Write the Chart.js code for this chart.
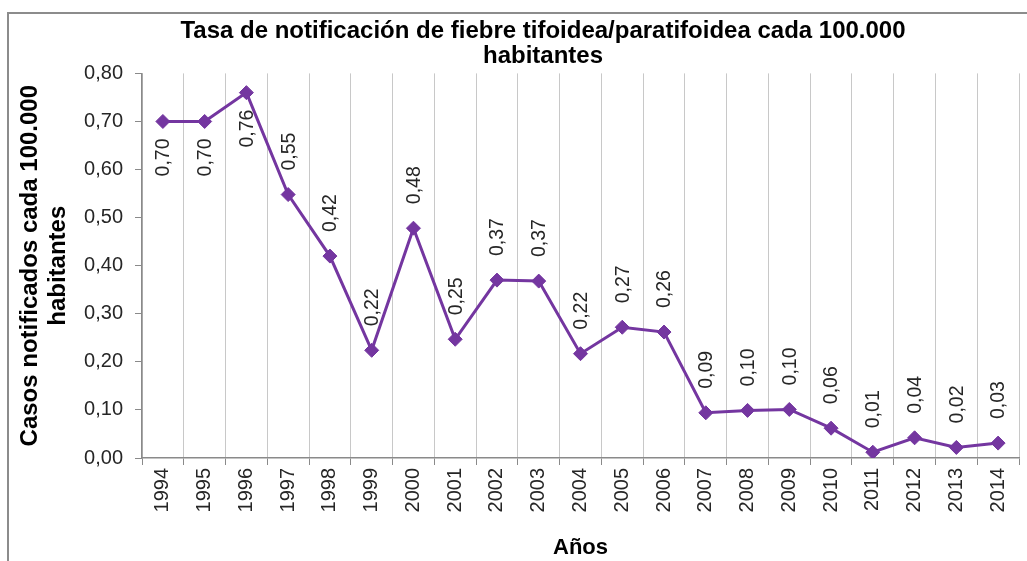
<!DOCTYPE html>
<html>
<head>
<meta charset="utf-8">
<script src="https://cdn.jsdelivr.net/npm/chart.js@4/dist/chart.umd.min.js"></script>
<style>
  body { margin: 0; background: #fff; overflow: hidden; }
  #wrap { width: 1027px; height: 561px; }
</style>
</head>
<body>
<div id="wrap"><canvas id="tasaChart"></canvas></div>
<script>
// datos
var years = ['1994', '1995', '1996', '1997', '1998', '1999', '2000', '2001', '2002', '2003', '2004',
             '2005', '2006', '2007', '2008', '2009', '2010', '2011', '2012', '2013', '2014'];
var tasa = [0.70, 0.70, 0.76, 0.548, 0.42, 0.224, 0.478, 0.247, 0.37, 0.368, 0.217,
            0.272, 0.262, 0.094, 0.099, 0.101, 0.062, 0.012, 0.042, 0.022, 0.031];
var yTicks = [0, 0.1, 0.2, 0.3, 0.4, 0.5, 0.6, 0.7, 0.8];

var purple = '#7436a0';
var axisGray = '#8a8a8a';
var fontFam = "'Liberation Sans', Arial, sans-serif";

function fmt(v) {
  return v.toFixed(2).replace('.', ',');
}

// marco gris del grafico (solo izquierda y arriba quedan dentro de la imagen)
var framePlugin = {
  id: 'frame',
  beforeDraw: function(chart) {
    var ctx = chart.ctx;
    ctx.save();
    ctx.fillStyle = '#fff';
    ctx.fillRect(0, 0, chart.width, chart.height);
    ctx.strokeStyle = '#8c8c8c';
    ctx.lineWidth = 2;
    ctx.beginPath();
    ctx.moveTo(8, chart.height + 5);
    ctx.lineTo(8, 13);
    ctx.lineTo(chart.width + 5, 13);
    ctx.stroke();
    ctx.restore();
  }
};

// etiquetas de valor giradas
var valueLabels = {
  id: 'valueLabels',
  afterDatasetsDraw: function(chart, args, opts) {
    var ctx = chart.ctx;
    var meta = chart.getDatasetMeta(0);
    ctx.save();
    ctx.font = '19.5px ' + fontFam;
    ctx.fillStyle = '#262626';
    ctx.textBaseline = 'middle';
    meta.data.forEach(function(pt, i) {
      var below = opts.below.indexOf(i) >= 0;
      ctx.save();
      ctx.translate(pt.x + 1, below ? pt.y + 17 : pt.y - 24);
      ctx.rotate(-Math.PI / 2);
      ctx.textAlign = below ? 'right' : 'left';
      ctx.fillText(fmt(tasa[i]), 0, 0);
      ctx.restore();
    });
    ctx.restore();
  }
};

var ctx = document.getElementById('tasaChart').getContext('2d');
var tasaChart = new Chart(ctx, {
  type: 'line',
  data: {
    labels: years,
    datasets: [{
      label: 'Tasa',
      data: tasa,
      borderColor: purple,
      backgroundColor: purple,
      borderWidth: 3,
      pointStyle: 'rectRot',
      pointRadius: 7,
      pointBorderWidth: 1,
      pointBackgroundColor: purple,
      pointBorderColor: purple,
      tension: 0
    }]
  },
  options: {
    responsive: true,
    maintainAspectRatio: false,
    animation: false,
    layout: {
      padding: { left: 66, right: 7, top: 14, bottom: 0 }
    },
    plugins: {
      legend: { display: false },
      tooltip: { enabled: false },
      title: {
        display: true,
        text: ['Tasa de notificación de fiebre tifoidea/paratifoidea cada 100.000', 'habitantes'],
        color: '#000',
        font: { family: fontFam, size: 24, weight: 'bold', lineHeight: 1.05 },
        padding: { top: 5, bottom: 4 }
      },
      valueLabels: { below: [0, 1, 2] }
    },
    scales: {
      x: {
        offset: true,
        grid: {
          offset: true,
          color: '#c8c8c8',
          tickColor: axisGray,
          tickLength: 7
        },
        border: { color: axisGray, width: 1.5 },
        ticks: {
          minRotation: 90,
          maxRotation: 90,
          autoSkip: false,
          padding: 3,
          color: '#262626',
          font: { family: fontFam, size: 20 }
        },
        title: {
          display: true,
          text: 'Años',
          color: '#000',
          font: { family: fontFam, size: 22, weight: 'bold' },
          padding: { top: 0, bottom: 0 }
        },
        afterFit: function(s) { s.height = 103; }
      },
      y: {
        min: 0,
        max: 0.8,
        afterBuildTicks: function(s) {
          s.ticks = yTicks.map(function(v) { return { value: v }; });
        },
        grid: {
          drawOnChartArea: false,
          tickColor: axisGray,
          tickLength: 7
        },
        border: { color: axisGray, width: 1.5 },
        ticks: {
          padding: 12,
          color: '#262626',
          font: { family: fontFam, size: 20 },
          callback: function(v) { return fmt(v); }
        },
        title: {
          display: true,
          text: ['Casos notificados cada 100.000', 'habitantes'],
          color: '#000',
          font: { family: fontFam, size: 24, weight: 'bold', lineHeight: 1.17 },
          padding: { top: -50, bottom: 0 }
        },
        afterFit: function(s) { s.width = 76; }
      }
    }
  },
  plugins: [framePlugin, valueLabels]
});
</script>
</body>
</html>
